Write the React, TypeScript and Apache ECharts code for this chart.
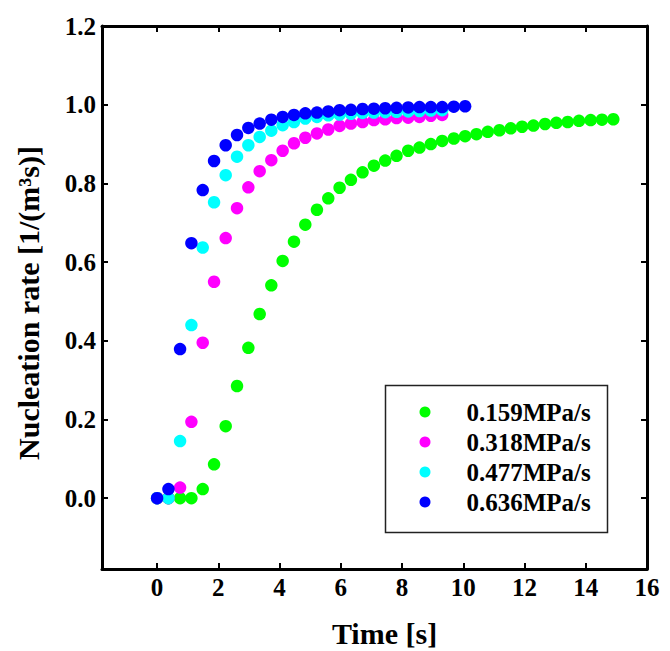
import React, { useEffect, useRef } from "react";
import * as echarts from "echarts";

// Time values [s] shared by all series (each series uses its first N points)
const times = [0, 0.37, 0.75, 1.12, 1.49, 1.86, 2.24, 2.61, 2.98, 3.35, 3.73, 4.1, 4.47, 4.84, 5.22, 5.59, 5.96, 6.33, 6.71, 7.08, 7.45, 7.82, 8.2, 8.57, 8.94, 9.31, 9.69, 10.06, 10.43, 10.8, 11.18, 11.55, 11.92, 12.29, 12.67, 13.04, 13.41, 13.78, 14.16, 14.53, 14.9];

const seriesNames = ["0.159MPa/s", "0.318MPa/s", "0.477MPa/s", "0.636MPa/s"];
const seriesColors = ["#00ff00", "#ff00ff", "#00ffff", "#0000ff"];

const rate0159 = [0, 0, 0, 0, 0.023, 0.086, 0.183, 0.285, 0.382, 0.468, 0.541, 0.603, 0.652, 0.695, 0.733, 0.762, 0.789, 0.809, 0.828, 0.845, 0.858, 0.87, 0.883, 0.891, 0.9, 0.908, 0.914, 0.92, 0.925, 0.931, 0.935, 0.94, 0.944, 0.947, 0.951, 0.954, 0.956, 0.959, 0.961, 0.962, 0.963];
const rate0318 = [0, 0, 0.027, 0.194, 0.395, 0.55, 0.661, 0.737, 0.79, 0.831, 0.859, 0.883, 0.902, 0.916, 0.927, 0.937, 0.946, 0.952, 0.956, 0.961, 0.963, 0.966, 0.967, 0.969, 0.972, 0.974];
const rate0477 = [0, 0, 0.145, 0.44, 0.637, 0.752, 0.821, 0.868, 0.897, 0.918, 0.934, 0.948, 0.956, 0.965, 0.969, 0.973, 0.975, 0.977, 0.979, 0.98, 0.981, 0.982, 0.983, 0.984, 0.985, 0.986];
const rate0636 = [0, 0.023, 0.379, 0.648, 0.783, 0.857, 0.897, 0.923, 0.941, 0.952, 0.962, 0.969, 0.974, 0.978, 0.98, 0.983, 0.986, 0.987, 0.989, 0.99, 0.991, 0.992, 0.993, 0.994, 0.994, 0.994, 0.995, 0.996];

const xTicks = [0, 2, 4, 6, 8, 10, 12, 14, 16];
const yTicks = [0, 0.2, 0.4, 0.6, 0.8, 1.0, 1.2];

const FONT = "Liberation Serif";

export default function App() {
  const ref = useRef<HTMLDivElement>(null);
  useEffect(() => {
    if (!ref.current) return;
    const chart = echarts.init(ref.current, undefined, { renderer: "svg" });
    const allRates = [rate0159, rate0318, rate0477, rate0636];
    const axisLine = { show: true, onZero: false, lineStyle: { color: "#000", width: 3 } };
    const tickStyle = { color: "#000", width: 2 };
    const labelStyle = { color: "#000", fontFamily: FONT, fontWeight: "bold" as const, fontSize: 25, lineHeight: 25 };
    const option: any = {
      animation: false,
      backgroundColor: "#fff",
      grid: { left: 102, top: 26, width: 545, height: 543, containLabel: false, outerBoundsMode: "none" },
      xAxis: [
        {
          type: "value",
          min: -1.8,
          max: 16,
          position: "bottom",
          axisLine,
          axisTick: { show: true, inside: true, length: 6, lineStyle: tickStyle, customValues: xTicks },
          axisLabel: { ...labelStyle, margin: 6, customValues: xTicks, formatter: (v: number) => String(v) },
          splitLine: { show: false },
          name: "Time [s]",
          nameLocation: "middle",
          nameGap: 49,
          nameTextStyle: { color: "#000", fontFamily: FONT, fontWeight: "bold", fontSize: 30, lineHeight: 30, padding: [0, 0, 0, 20] },
        },
        {
          type: "value",
          min: -1.8,
          max: 16,
          position: "top",
          axisLine,
          axisTick: { show: true, inside: true, length: 6, lineStyle: tickStyle, customValues: xTicks },
          axisLabel: { show: false, customValues: xTicks },
          splitLine: { show: false },
        },
      ],
      yAxis: [
        {
          type: "value",
          min: -0.18,
          max: 1.2,
          position: "left",
          axisLine,
          axisTick: { show: true, inside: true, length: 6, lineStyle: tickStyle, customValues: yTicks },
          axisLabel: { ...labelStyle, margin: 6, customValues: yTicks, formatter: (v: number) => v.toFixed(1) },
          splitLine: { show: false },
          name: "Nucleation rate [1/(m³s)]",
          nameLocation: "middle",
          nameGap: 59,
          nameTextStyle: { color: "#000", fontFamily: FONT, fontWeight: "bold", fontSize: 30, lineHeight: 30, padding: [0, 11, 0, 0] },
        },
        {
          type: "value",
          min: -0.18,
          max: 1.2,
          position: "right",
          axisLine,
          axisTick: { show: true, inside: true, length: 6, lineStyle: tickStyle, customValues: yTicks },
          axisLabel: { show: false, customValues: yTicks },
          splitLine: { show: false },
        },
      ],
      legend: {
        orient: "vertical",
        left: 419.5,
        top: 399.5,
        padding: 0,
        itemWidth: 11,
        itemHeight: 11,
        itemGap: 5,
        icon: "circle",
        data: seriesNames,
        textStyle: { color: "#000", fontFamily: FONT, fontWeight: "bold", fontSize: 25, lineHeight: 25, padding: [0, 0, 0, 31] },
      },
      graphic: [
        {
          type: "rect",
          left: 383,
          top: 383,
          shape: { width: 222, height: 147 },
          style: { fill: "none", stroke: "#222", lineWidth: 1.5 },
          z: 10,
        },
      ],
      series: allRates.map((vals, i) => ({
        type: "scatter",
        name: seriesNames[i],
        xAxisIndex: 0,
        yAxisIndex: 0,
        symbol: "circle",
        symbolSize: 12.5,
        itemStyle: { color: seriesColors[i], opacity: 1 },
        data: vals.map((v, k) => [times[k], v]),
        z: 2 + i,
      })),
    };
    chart.setOption(option);
    return () => chart.dispose();
  }, []);
  return <div ref={ref} style={{ position: "absolute", left: 0, top: 0, width: 670, height: 651 }} />;
}
